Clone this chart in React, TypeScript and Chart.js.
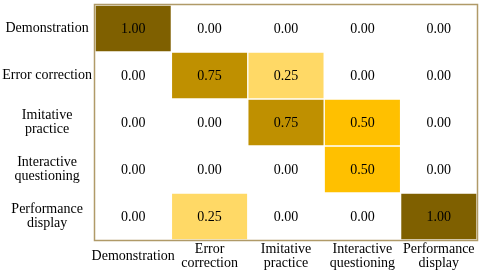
import React, { useEffect, useRef } from "react";
import { Chart, registerables } from "chart.js";

Chart.register(...registerables);

const colLabels: (string | string[])[] = [
  "Demonstration",
  ["Error", "correction"],
  ["Imitative", "practice"],
  ["Interactive", "questioning"],
  ["Performance", "display"],
];
const rowLabels: (string | string[])[] = [
  "Demonstration",
  "Error correction",
  ["Imitative", "practice"],
  ["Interactive", "questioning"],
  ["Performance", "display"],
];
const rowDemonstration = [1.0, 0.0, 0.0, 0.0, 0.0];
const rowErrorCorrection = [0.0, 0.75, 0.25, 0.0, 0.0];
const rowImitativePractice = [0.0, 0.0, 0.75, 0.5, 0.0];
const rowInteractiveQuestioning = [0.0, 0.0, 0.0, 0.5, 0.0];
const rowPerformanceDisplay = [0.0, 0.25, 0.0, 0.0, 1.0];
const matrix = [
  rowDemonstration,
  rowErrorCorrection,
  rowImitativePractice,
  rowInteractiveQuestioning,
  rowPerformanceDisplay,
];

function cellColor(v: number): string {
  if (v >= 0.95) return "#7f6000";
  if (v >= 0.7) return "#bf9000";
  if (v >= 0.45) return "#ffc000";
  if (v >= 0.2) return "#ffd966";
  return "#ffffff";
}

const FONT = "'Liberation Serif', 'Times New Roman', serif";

export default function App() {
  const ref = useRef<HTMLCanvasElement>(null);
  useEffect(() => {
    document.body.style.margin = "0";
    const canvas = ref.current!;
    const datasets = matrix.map((row, r) => ({
      label: String(rowLabels[r]),
      data: row.map(() => [r, r + 1] as [number, number]),
      backgroundColor: row.map(cellColor),
      borderColor: "#ffffff",
      borderWidth: 1,
      borderSkipped: false as const,
      grouped: false,
      barPercentage: 1,
      categoryPercentage: 1,
    }));

    const textPlugin = {
      id: "cellText",
      afterDatasetsDraw(chart: any) {
        const ctx = chart.ctx;
        const xs = chart.scales.x;
        const ys = chart.scales.y;
        ctx.save();
        ctx.font = `14px ${FONT}`;
        ctx.fillStyle = "#000000";
        ctx.textAlign = "center";
        ctx.textBaseline = "middle";
        matrix.forEach((row, r) => {
          row.forEach((v, c) => {
            const x = xs.getPixelForValue(c);
            const y = ys.getPixelForValue(r + 0.5);
            ctx.fillText(v.toFixed(2), x, y + 1);
          });
        });
        const a = chart.chartArea;
        ctx.strokeStyle = "#b09a68";
        ctx.lineWidth = 1.5;
        ctx.strokeRect(a.left - 0.5, a.top - 0.5, a.right - a.left + 1, a.bottom - a.top + 1);
        ctx.restore();
      },
    };

    const chart = new Chart(canvas, {
      type: "bar",
      data: { labels: colLabels as any, datasets: datasets as any },
      options: {
        animation: false,
        responsive: false,
        maintainAspectRatio: false,
        layout: { padding: { top: 5, right: 3, left: 0, bottom: 0 } },
        plugins: { legend: { display: false }, tooltip: { enabled: false } },
        scales: {
          x: {
            type: "category",
            grid: { display: false, drawTicks: false },
            border: { display: false },
            afterFit: (s: any) => {
              s.height = 34;
              s.paddingLeft = 0;
              s.paddingRight = 0;
            },
            ticks: {
              color: "#000000",
              font: { family: FONT, size: 14, lineHeight: 1 },
              padding: 9,
              crossAlign: "center",
              maxRotation: 0,
              autoSkip: false,
            },
          },
          y: {
            type: "linear",
            min: 0,
            max: 5,
            reverse: true,
            grid: { display: false, drawTicks: false },
            border: { display: false },
            afterFit: (s: any) => {
              s.width = 95;
              s.paddingTop = 0;
              s.paddingBottom = 0;
            },
            afterBuildTicks: (s: any) => {
              s.ticks = rowLabels.map((_, i) => ({ value: i + 0.5 }));
            },
            ticks: {
              color: "#000000",
              font: { family: FONT, size: 14, lineHeight: 1 },
              padding: 3,
              crossAlign: "center",
              callback: (v: any) => rowLabels[Math.floor(Number(v))] as any,
            },
          },
        },
      },
      plugins: [textPlugin],
    });
    return () => chart.destroy();
  }, []);
  return <canvas ref={ref} width={480} height={274} style={{ display: "block" }} />;
}
